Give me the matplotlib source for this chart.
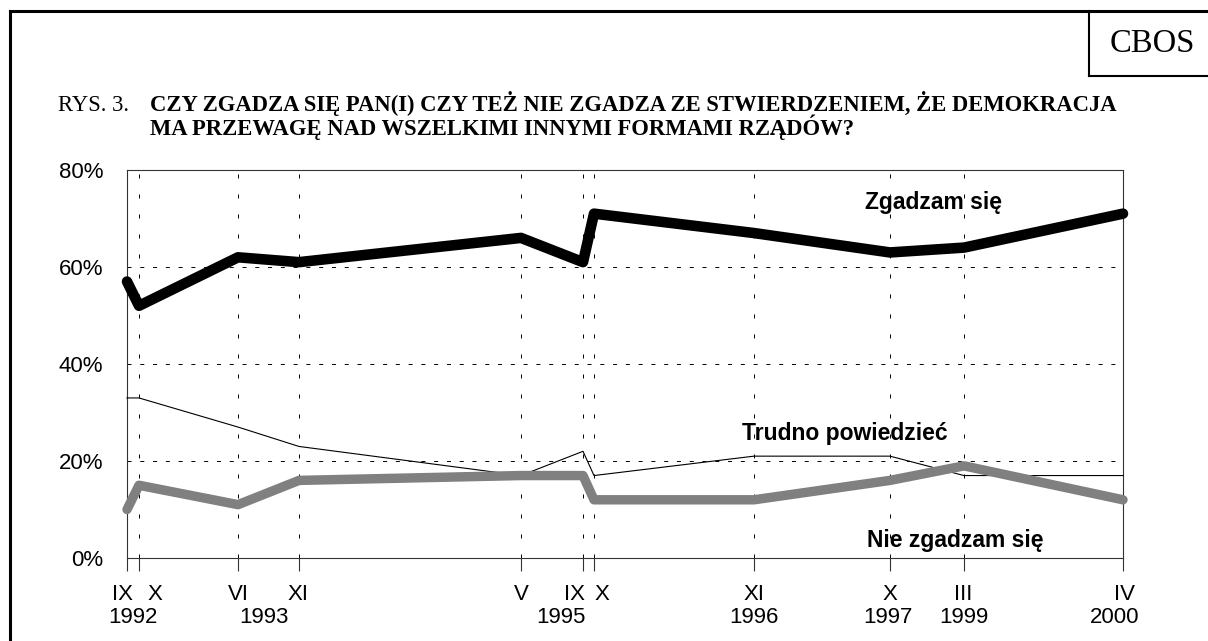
import matplotlib.pyplot as plt
from matplotlib.lines import Line2D

# survey waves (month, year) - positions on the axis as in the original chart
months = ["IX", "X", "VI", "XI", "V", "IX", "X", "XI", "X", "III", "IV"]
xpos = [0, 12, 111, 172, 394, 456, 467, 627, 763, 837, 996]
years = ["1992", "1993", "1995", "1996", "1997", "1999", "2000"]

# answers in %
zgadzam = [57, 52, 62, 61, 66, 61, 71, 67, 63, 64, 71]
trudno = [33, 33, 27, 23, 17, 22, 17, 21, 21, 17, 17]
nie_zgadzam = [10, 15, 11, 16, 17, 17, 12, 12, 16, 19, 12]

# label placement (axis units)
month_lab_x = [-5, 28, 111, 171, 394, 447, 475, 627, 763, 836, 997]
year_lab_x = [6, 137, 434, 627, 761, 837, 988]

W, H = 1208, 641
plt.rcParams['lines.scale_dashes'] = False
fig = plt.figure(figsize=(W / 100, H / 100), dpi=100)

def fx(px):
    return px / W

def fy(py):
    return 1 - py / H

# outer frame and CBOS box
fig.add_artist(Line2D([fx(10), fx(10)], [fy(11), fy(H + 5)], color='black', lw=2.2))
fig.add_artist(Line2D([fx(10), fx(W + 5)], [fy(11), fy(11)], color='black', lw=2.2))
fig.add_artist(Line2D([fx(1089), fx(1089)], [fy(11), fy(76)], color='black', lw=1.5))
fig.add_artist(Line2D([fx(1089), fx(W + 5)], [fy(76), fy(76)], color='black', lw=1.5))
fig.text(fx(1152), fy(44), "CBOS", family='Liberation Serif', fontsize=23.5,
         ha='center', va='center')

# title
tfs = 16.3
fig.text(fx(58), fy(111), "RYS. 3.", family='Liberation Serif', fontsize=tfs, va='baseline')
fig.text(fx(150), fy(111), "CZY ZGADZA SIĘ PAN(I) CZY TEŻ NIE ZGADZA ZE STWIERDZENIEM, ŻE DEMOKRACJA",
         family='Liberation Serif', fontsize=tfs, fontweight='bold', va='baseline')
fig.text(fx(150), fy(135), "MA PRZEWAGĘ NAD WSZELKIMI INNYMI FORMAMI RZĄDÓW?",
         family='Liberation Serif', fontsize=tfs, fontweight='bold', va='baseline')

ax = fig.add_axes([fx(127), fy(558), fx(1123) - fx(127), fy(170) - fy(558)])
ax.set_xlim(0, 996)
ax.set_ylim(0, 80)

for s in ax.spines.values():
    s.set_linewidth(0.8)
    s.set_color('#333333')

ax.set_yticks([0, 20, 40, 60, 80])
ax.set_yticklabels(["0%", "20%", "40%", "60%", "80%"])
ax.tick_params(axis='y', length=0, pad=17, labelsize=16)
for lab in ax.get_yticklabels():
    lab.set_family('Liberation Sans')

ax.set_xticks(xpos)
ax.set_xticklabels([])
ax.tick_params(axis='x', length=9.4, width=0.8, direction='out', color='#333333')

for y in [20, 40, 60, 80]:
    ax.axhline(y, color='black', lw=0.7, linestyle=(0, (2.9, 6.3)), zorder=1)
for x in xpos:
    ax.axvline(x, color='black', lw=0.7, linestyle=(0, (2.9, 11.5)), zorder=1)

ax.plot(xpos, trudno, color='black', lw=0.8, zorder=3, clip_on=False)
ax.plot(xpos, nie_zgadzam, color='#808080', lw=6.8, zorder=4, clip_on=False,
        solid_capstyle='round', solid_joinstyle='round')
ax.plot(xpos, zgadzam, color='black', lw=7.6, zorder=5, clip_on=False,
        solid_capstyle='round', solid_joinstyle='round')

lab_font = dict(family='Liberation Sans', fontsize=16.5, fontweight='bold', ha='center', va='center')
ax.text(807, 73.2, "Zgadzam się", **lab_font)
ax.text(718, 25.6, "Trudno powiedzieć", **lab_font)
ax.text(828, 3.7, "Nie zgadzam się", **lab_font)

for m, x in zip(months, month_lab_x):
    ax.text(x, -7.6, m, family='Liberation Sans', fontsize=16, ha='center', va='center')
for yr, x in zip(years, year_lab_x):
    ax.text(x, -12.3, yr, family='Liberation Sans', fontsize=16, ha='center', va='center')

fig.savefig("out.png", dpi=100)
